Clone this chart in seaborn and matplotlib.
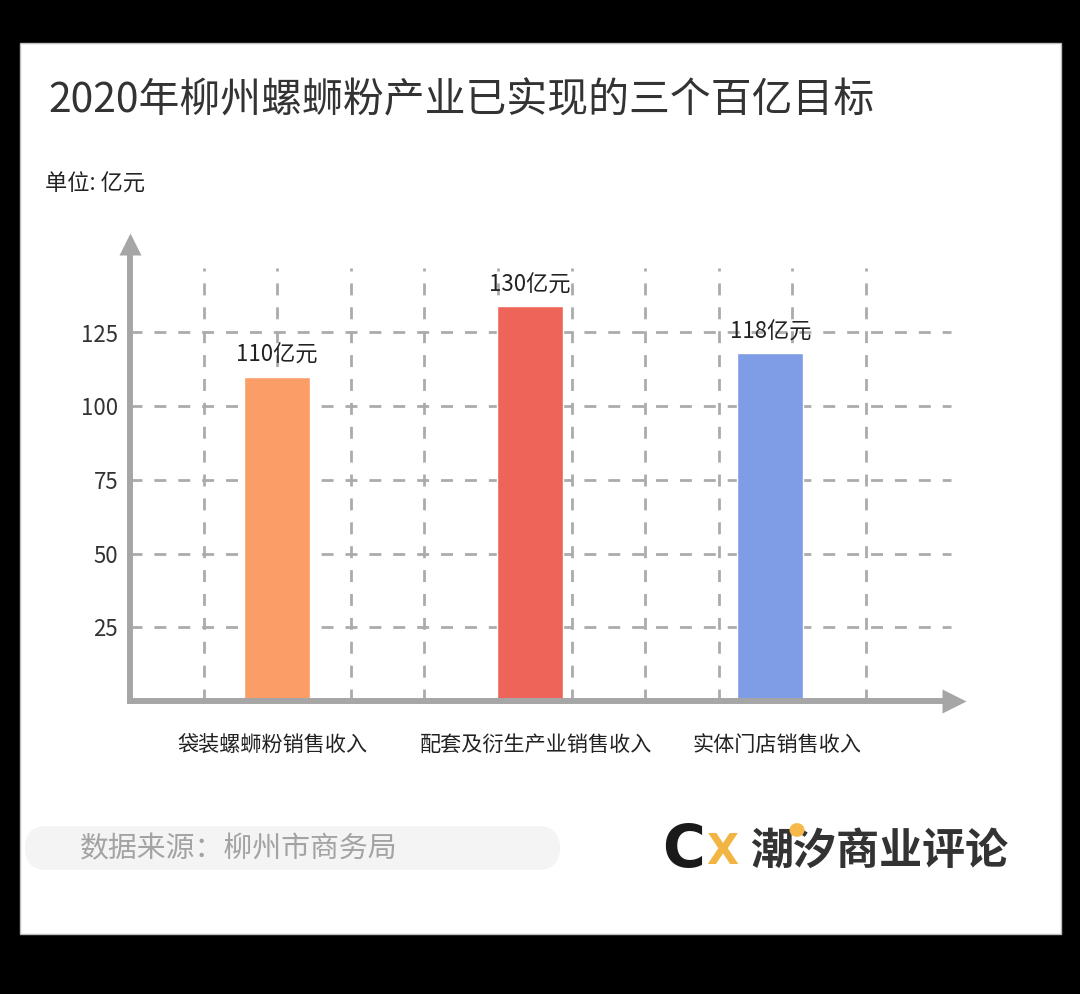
import numpy as np
import pandas as pd
import seaborn as sns
import matplotlib.pyplot as plt
from matplotlib.patches import Rectangle, FancyBboxPatch, Circle

# Data
CATEGORIES = ["袋装螺蛳粉销售收入", "配套及衍生产业销售收入", "实体门店销售收入"]
VALUES = [110, 134, 118]
BAR_LABELS = ["110亿元", "130亿元", "118亿元"]
Y_TICKS = [25, 50, 75, 100, 125]

TITLE = "2020年柳州螺蛳粉产业已实现的三个百亿目标"
UNIT = "单位: 亿元"
SOURCE = "数据来源：柳州市商务局"
BRAND = "潮汐商业评论"

# Layout (x axis in grid units, one unit per vertical dashed line)
BAR_POS = [2.0, 5.43, 8.7]
LABEL_POS = [1.93, 5.52, 8.79]
BAR_WIDTH = 0.9
COLORS = ["#fa9d66", "#ee6458", "#7f9ce6"]
AXIS_COLOR = "#a6a6a6"
GRID_COLOR = "#ababab"

W, H = 1080, 994


def px(x, y):
    """pixel (from top-left) -> figure fraction"""
    return x / W, 1 - y / H


sns.set_theme(style="white")
plt.rcParams["font.family"] = ["Noto Sans CJK SC", "DejaVu Sans"]

fig = plt.figure(figsize=(W / 100, H / 100), dpi=100, facecolor="black")

# white card
x0, y0 = px(20, 934)
fig.patches.append(Rectangle((x0, y0), (1061 - 20) / W, (934 - 43) / H,
                             transform=fig.transFigure, facecolor="white",
                             edgecolor="#bdbdbd", lw=1, zorder=-2))

# axes: x=0 at px 130, 73.6 px per unit; y=0 at px 701, 2.948 px per unit
XMAX, YMAX = 11.4, 160
left, bottom = px(130, 701)
ax = fig.add_axes([left, bottom, XMAX * 73.6 / W, YMAX * 2.948 / H])
ax.patch.set_alpha(0)

# dashed grid
ax.hlines(Y_TICKS, 0, 11.15, colors=GRID_COLOR, linewidth=2,
          linestyles=(0, (4.3, 4.3)), zorder=0.5)
ax.vlines(np.arange(1, 11), 0, 147, colors=GRID_COLOR, linewidth=2,
          linestyles=(0, (4.3, 4.3)), zorder=0.5)

df = pd.DataFrame({"category": CATEGORIES, "value": VALUES, "pos": BAR_POS})
sns.barplot(data=df, x="pos", y="value", hue="category", palette=COLORS,
            hue_order=CATEGORIES, native_scale=True, saturation=1,
            width=BAR_WIDTH / np.diff(BAR_POS).min(), legend=False,
            errorbar=None, ax=ax, zorder=2)

for xp, v, lab in zip(BAR_POS, VALUES, BAR_LABELS):
    ax.annotate(lab, (xp, v), xytext=(0, 7), textcoords="offset points",
                ha="center", va="bottom", fontsize=16, color="#222222")

# axis lines with arrow heads
ax.plot([-0.04, 11.05], [0, 0], color=AXIS_COLOR, lw=4.3,
        solid_capstyle="butt", clip_on=False, zorder=3)
ax.plot([0, 0], [-1, 152], color=AXIS_COLOR, lw=4.3,
        solid_capstyle="butt", clip_on=False, zorder=3)
ax.plot(11.2, 0, marker=">", ms=17, color=AXIS_COLOR, mec="none",
        clip_on=False, zorder=3)
ax.plot(0, 155, marker="^", ms=16, color=AXIS_COLOR, mec="none",
        clip_on=False, zorder=3)

ax.set_xlim(0, XMAX)
ax.set_ylim(0, YMAX)
ax.set_yticks(Y_TICKS)
ax.set_yticklabels([str(t) for t in Y_TICKS])
ax.set_xticks(LABEL_POS)
ax.set_xticklabels(CATEGORIES)
ax.tick_params(axis="y", length=0, pad=8.5, labelsize=16, labelcolor="#333333")
ax.tick_params(axis="x", length=0, pad=24, labelsize=15.2, labelcolor="#222222")
ax.set_xlabel("")
ax.set_ylabel("")
for s in ax.spines.values():
    s.set_visible(False)

# titles
fig.text(*px(48, 101), TITLE, fontsize=29.4, color="#333333", va="center", ha="left")
fig.text(*px(45, 184), UNIT, fontsize=16, color="#222222", va="center", ha="left")

# source pill
bx, by = px(25, 870)
fig.patches.append(FancyBboxPatch((bx, by), (560 - 25) / W, 44 / H,
                                  boxstyle="round,pad=0,rounding_size=0.0204",
                                  mutation_aspect=W / H,
                                  transform=fig.transFigure,
                                  facecolor="#f4f4f4", edgecolor="none", zorder=-1))
fig.text(*px(80, 849), SOURCE, fontsize=20.8, color="#a3a3a3", va="center", ha="left")

# brand mark
fig.text(*px(662, 851), "C", fontsize=42, fontweight="bold", color="#1a1a1a",
         va="center", ha="left", family=["DejaVu Sans"])
fig.text(*px(706, 852), "X", fontsize=30, fontweight="bold", color="#f2b544",
         va="center", ha="left", family=["DejaVu Sans"])
fig.text(*px(750, 851), BRAND, fontsize=31, fontweight="bold", color="#333333",
         va="center", ha="left")
fig.patches.append(Circle(px(797, 830), 7.5 / W, transform=fig.transFigure,
                          facecolor="#f7b84a", edgecolor="none", zorder=5))

fig.savefig("out.png", dpi=100, facecolor="black")
